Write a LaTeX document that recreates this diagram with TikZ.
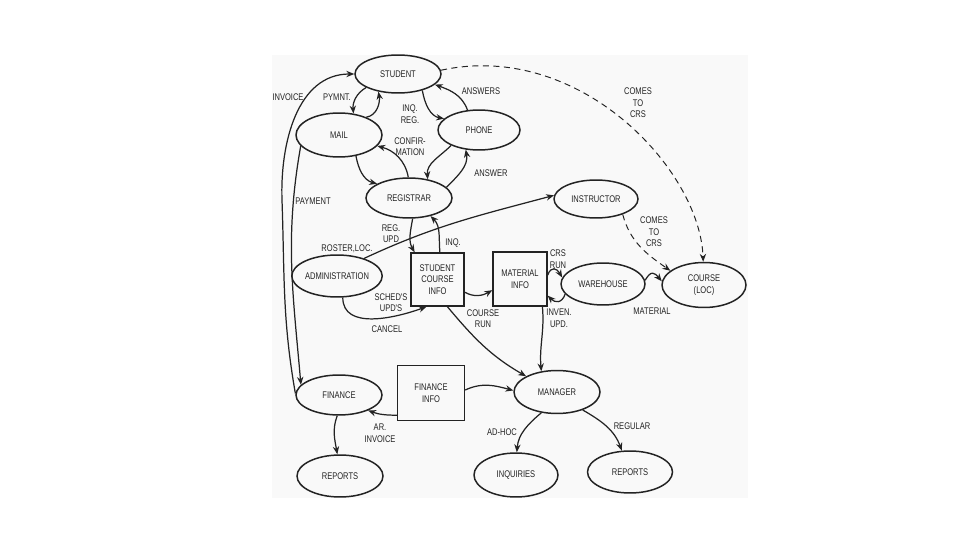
\documentclass[tikz,border=0pt]{standalone}
\usepackage{fontspec}
\newfontfamily\lblfont[FakeStretch=0.78]{Liberation Sans}
\usetikzlibrary{shapes.geometric,arrows.meta}
\definecolor{scan}{RGB}{249,249,249}
\definecolor{ink}{RGB}{35,35,35}
\begin{document}
\begin{tikzpicture}[x=0.02cm, y=0.02cm,
  font=\lblfont\fontsize{5.5}{6.6}\selectfont,
  proc/.style={ellipse, draw=ink, line width=0.85pt, inner sep=0pt, text=ink, align=center},
  store/.style={rectangle, draw=ink, line width=0.8pt, inner sep=0pt, align=center, text=ink},
  flow/.style={draw=ink, line width=0.7pt, -{Stealth[length=4.5pt,width=3.6pt]}},
  dflow/.style={flow, line width=0.55pt, dash pattern=on 3.5pt off 2.5pt},
  lbl/.style={text=ink, align=center, inner sep=0pt}]
\useasboundingbox (0,0) rectangle (960,-540);
\fill[white] (0,0) rectangle (960,-540);
\fill[scan] (272,-55) rectangle (748,-498);

% processes
\node[proc, minimum width=1.72cm, minimum height=0.76cm] (student) at (398,-74) {STUDENT};
\node[proc, minimum width=1.72cm, minimum height=0.88cm] (mail) at (339,-135) {MAIL};
\node[proc, minimum width=1.64cm, minimum height=0.80cm] (phone) at (479,-130) {PHONE};
\node[proc, minimum width=1.72cm, minimum height=0.80cm] (registrar) at (409,-198) {REGISTRAR};
\node[proc, minimum width=1.68cm, minimum height=0.76cm] (instructor) at (596,-199) {INSTRUCTOR};
\node[proc, minimum width=1.72cm, minimum height=0.84cm] (admin) at (337,-276) {ADMINISTRATION};
\node[proc, minimum width=1.68cm, minimum height=0.84cm] (warehouse) at (603,-284) {WAREHOUSE};
\node[proc, minimum width=1.68cm, minimum height=0.90cm] (course) at (704,-285) {COURSE\\(LOC)};
\node[proc, minimum width=1.72cm, minimum height=0.80cm] (finance) at (339,-395) {FINANCE};
\node[proc, minimum width=1.72cm, minimum height=0.86cm] (manager) at (557,-392) {MANAGER};
\node[proc, minimum width=1.72cm, minimum height=0.84cm] (rep1) at (340,-476) {REPORTS};
\node[proc, minimum width=1.68cm, minimum height=0.88cm] (inquiries) at (516,-475) {INQUIRIES};
\node[proc, minimum width=1.70cm, minimum height=0.84cm] (rep2) at (630,-472) {REPORTS};

% data stores
\node[store, minimum width=1.06cm, minimum height=1.06cm] (sci) at (437.5,-279.5) {STUDENT\\COURSE\\INFO};
\node[store, minimum width=1.08cm, minimum height=1.08cm] (mi) at (520,-279) {MATERIAL\\INFO};
\node[store, minimum width=1.34cm, minimum height=1.10cm] (fi) at (431,-393) {FINANCE\\INFO};

% labels
\node[lbl] (tinvoice) at (288,-97) {INVOICE};
\node[lbl] (tpymnt) at (337,-97) {PYMNT.};
\node[lbl] (tinqreg) at (410,-114) {INQ.\\REG.};
\node[lbl] (tanswers) at (481,-91) {ANSWERS};
\node[lbl] (tconf) at (410,-146.5) {CONFIR-\\MATION};
\node[lbl] (tanswer) at (491,-173) {ANSWER};
\node[lbl] (tpayment) at (313,-201) {PAYMENT};
\node[lbl] (tcomes1) at (638,-103) {COMES\\TO\\CRS};
\node[lbl] (tregupd) at (391,-233.5) {REG.\\UPD};
\node[lbl] (tinq) at (453,-243) {INQ.};
\node[lbl] (troster) at (347,-249) {ROSTER,LOC.};
\node[lbl] (tsched) at (391,-302.5) {SCHED'S\\UPD'S};
\node[lbl] (tcancel) at (387,-329) {CANCEL};
\node[lbl] (tcrun) at (483,-318.5) {COURSE\\RUN};
\node[lbl] (tcrsrun) at (558,-259) {CRS\\RUN};
\node[lbl] (tinven) at (559,-318.5) {INVEN.\\UPD.};
\node[lbl] (tcomes2) at (654,-232) {COMES\\TO\\CRS};
\node[lbl] (tmaterial) at (652,-311) {MATERIAL};
\node[lbl] (tar) at (380,-433) {AR.\\INVOICE};
\node[lbl] (tadhoc) at (502,-432) {AD-HOC};
\node[lbl] (tregular) at (632,-426) {REGULAR};

% connectors
\coordinate (inv1) at (282,-200);
\draw[flow] (finance.178) to[out=100,in=-88] (inv1) to[out=92,in=180] (student.180);
\draw[flow] (mail.196) to[out=-100,in=95] (finance.165);
\draw[flow] (student.203) to[out=210,in=95] (mail.56);
\draw[flow] (mail.33) to[out=10,in=-80] (student.222);
\draw[flow] (student.326) to[out=-80,in=170] (phone.162);
\draw[flow] (phone.120) to[out=110,in=-20] (student.344);
\draw[flow] (mail.309) to[out=-80,in=165] (registrar.156);
\draw[flow] (registrar.92) to[out=100,in=-15] (mail.344);
\draw[flow] (phone.209) to[out=225,in=95] (registrar.45);
\draw[flow] (registrar.16) to[out=45,in=-80] (phone.236);
\draw[dflow] (student.5) .. controls (580,-40) and (700,-170) .. (course.92);
\draw[dflow] (instructor.330) to[out=-75,in=145] (course.157);
\draw[flow] (admin.33) to[out=25,in=195] (instructor.175);
\draw[flow] (registrar.280) to[out=-100,in=120] (sci.130);
\draw[flow] (sci.85) to[out=95,in=-45] (registrar.-40);
\draw[flow] (admin.-75) to[out=-90,in=200] (sci.248);
\draw[flow] (sci.-25) to[out=-30,in=210] (mi.202);
\draw[flow] (sci.-70) to[out=-50,in=150] (manager.153);
\draw[flow] (mi.-51) to[out=-85,in=95] (manager.127);
\draw[flow] (mi.8) to[out=70,in=120,looseness=1.8] (warehouse.171);
\draw[flow] (warehouse.195) to[out=-110,in=-45,looseness=1.5] (mi.-31);
\draw[flow] (warehouse.5) to[out=60,in=130,looseness=1.8] (course.175);
\draw[flow] (fi.213) to[out=180,in=-20] (finance.-28);
\draw[flow] (fi.5) to[out=25,in=165] (manager.178);
\draw[flow] (finance.-95) to[out=-110,in=100] (rep1.97);
\draw[flow] (manager.-127) to[out=-140,in=85] (inquiries.88);
\draw[flow] (manager.-35) to[out=-30,in=110] (rep2.111);
\end{tikzpicture}
\end{document}
